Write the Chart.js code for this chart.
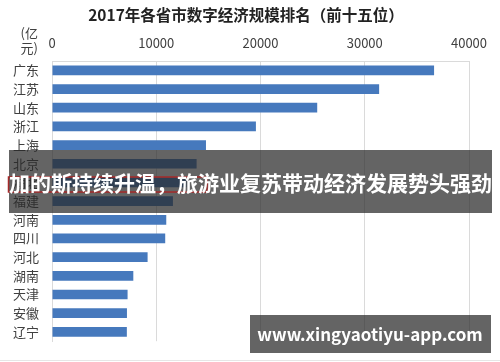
<!DOCTYPE html>
<html><head><meta charset="utf-8">
<script src="https://cdn.jsdelivr.net/npm/chart.js@4/dist/chart.umd.min.js"></script>
<style>html,body{margin:0;padding:0;background:#fff}#wrap{width:500px;height:362px;position:relative}</style>
</head><body><div id="wrap"><canvas id="c" width="500" height="362"></canvas></div>
<script>
const titleText = "2017年各省市数字经济规模排名（前十五位）";
const unitLines = ["(亿", "元)"];
const provinces = ["广东","江苏","山东","浙江","上海","北京","湖北","福建","河南","四川","河北","湖南","天津","安徽","辽宁"];
const scale2017 = [36650,31380,25440,19560,14770,13870,12900,11600,10960,10860,9170,7800,7250,7190,7180];
const xTicks = [0,10000,20000,30000,40000];
const bannerText = "加的斯持续升温，旅游业复苏带动经济发展势头强劲";
const watermarkText = "www.xingyaotiyu-app.com";

const FONT = '"Noto Sans CJK SC","Noto Sans",sans-serif';

const overlay = {
  id:'overlay',
  afterDraw(chart){
    const ctx = chart.ctx;
    ctx.save();
    // title
    ctx.fillStyle = '#222';
    ctx.font = 'bold 15.5px ' + FONT;
    ctx.textAlign = 'center'; ctx.textBaseline = 'middle';
    ctx.fillText(titleText, 246, 15);
    // unit
    ctx.fillStyle = '#404040';
    ctx.font = '13px ' + FONT;
    ctx.textAlign = 'right';
    ctx.fillText(unitLines[0], 38, 33);
    ctx.fillText(unitLines[1], 38, 48);
    // bottom faint line
    ctx.strokeStyle = '#e6e6e6'; ctx.lineWidth = 1;
    ctx.beginPath(); ctx.moveTo(0, 360.5); ctx.lineTo(500, 360.5); ctx.stroke();
    // banner
    ctx.fillStyle = 'rgba(40,40,40,0.72)';
    ctx.fillRect(9, 150, 483, 63);
    ctx.strokeStyle = '#a52a2a'; ctx.lineWidth = 1.5;
    ctx.strokeRect(8.5, 177, 198.5, 15);
    ctx.fillStyle = '#fff';
    ctx.font = 'bold 21px ' + FONT;
    ctx.textAlign = 'left'; ctx.textBaseline = 'middle';
    ctx.fillText(bannerText, 9, 183);
    // watermark
    ctx.fillStyle = 'rgba(40,40,40,0.72)';
    ctx.fillRect(250, 315, 241, 38);
    ctx.fillStyle = '#fff';
    ctx.font = 'bold 17px ' + FONT;
    ctx.textAlign = 'center';
    ctx.fillText(watermarkText, 370, 335);
    ctx.restore();
  }
};

new Chart(document.getElementById('c'), {
  type:'bar',
  data:{ labels: provinces, datasets:[{ data: scale2017, backgroundColor:'#4679bd', borderWidth:0, barPercentage:0.52, categoryPercentage:1 }]},
  options:{
    indexAxis:'y', responsive:false, animation:false,
    layout:{ padding:{ left:0, right:31, top:0, bottom:10 } },
    plugins:{ legend:{display:false}, title:{display:false}, tooltip:{enabled:false} },
    scales:{
      x:{ position:'top', min:0, max:40000,
          afterBuildTicks(s){ s.ticks = xTicks.map(v=>({value:v})); },
          afterFit(s){ s.height = 61; },
          grid:{ color:'#dadada', drawTicks:false },
          border:{ color:'#dadada' },
          ticks:{ padding:10, color:'#404040', font:{ family:FONT, size:13 }, callback:(v)=>String(v) } },
      y:{ afterFit(s){ s.width = 52; },
          grid:{ display:false, drawTicks:false },
          border:{ color:'#dadada' },
          ticks:{ padding:13, color:'#404040', font:{ family:FONT, size:13 } } }
    }
  },
  plugins:[overlay]
});
</script></body></html>
